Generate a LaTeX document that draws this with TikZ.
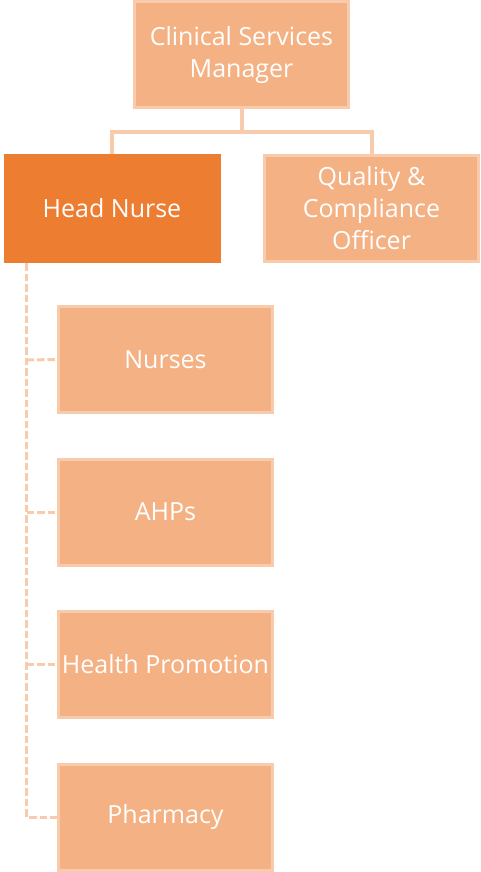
\documentclass[tikz,border=0pt]{standalone}
\usepackage{fontspec}
\setmainfont{Open Sans}
\definecolor{boxfill}{HTML}{F4B183}
\definecolor{boxedge}{HTML}{F8CBAD}
\definecolor{headfill}{HTML}{ED7D31}
\newcommand{\boxfont}{\fontsize{25pt}{32pt}\selectfont}
\begin{document}
\begin{tikzpicture}[x=1pt,y=-1pt,
  unit/.style={draw=boxedge,line width=3pt,fill=boxfill,text=white,
    font=\boxfont,align=center,inner sep=0pt,
    minimum width=214pt,minimum height=106pt},
  lead/.style={unit,fill=headfill,draw=headfill},
  solidlink/.style={draw=boxedge,line width=4pt},
  dashlink/.style={draw=boxedge,line width=3pt,dash pattern=on 7.5pt off 3pt}]
\useasboundingbox (0,0) rectangle (480,872);
\node[unit] (csm) at (241.5,55) {Clinical Services\\Manager};
\node[lead] (head) at (112,208) {Head Nurse};
\node[unit] (qco) at (371.5,208) {Quality \&\\Compliance\\Officer};
\node[unit] (nur) at (165.5,359.5) {Nurses};
\node[unit] (ahp) at (165.5,512) {AHPs};
\node[unit] (hp) at (165.5,664) {Health Promotion};
\node[unit] (ph) at (165.5,817) {Pharmacy};
% reporting lines from the manager
\coordinate (bus) at (241.5,132);
\draw[solidlink] (csm.south) -- (bus);
\draw[solidlink] (head.north) |- (bus) -| (qco.north);
% team members under the head nurse
\coordinate (spine) at (26.5,263);
\draw[dashlink] (spine) -- (26.5,817) -- (ph.west);
\draw[dashlink] (26.5,360) -- (nur.west);
\draw[dashlink] (26.5,512) -- (ahp.west);
\draw[dashlink] (26.5,664) -- (hp.west);
\end{tikzpicture}
\end{document}
